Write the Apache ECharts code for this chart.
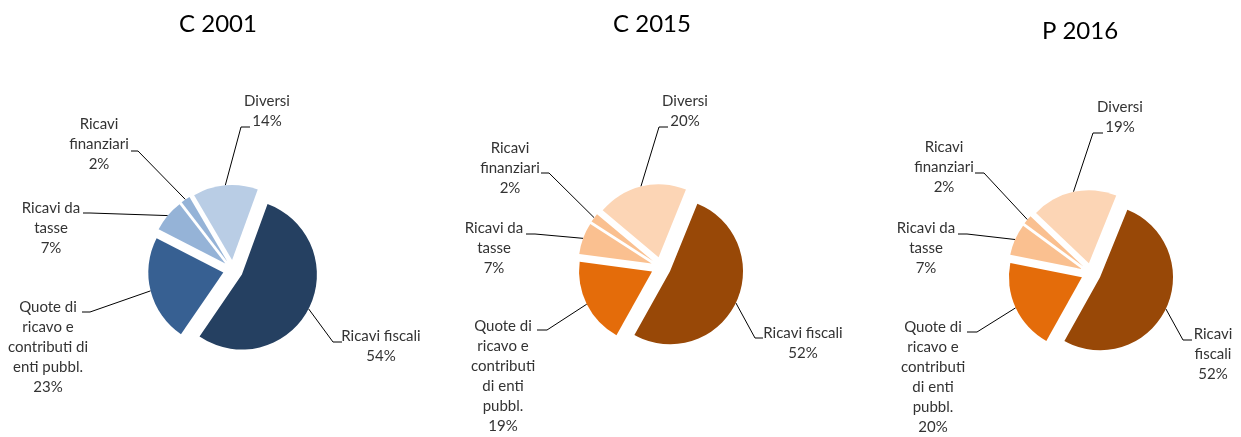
<!DOCTYPE html>
<html><head><meta charset="utf-8">
<script src="https://cdn.jsdelivr.net/npm/echarts@6/dist/echarts.min.js"></script>
<style>html,body{margin:0;padding:0;background:#fff}#c{width:1241px;height:437px}</style>
</head><body><div id="c"></div>
<script>
// ---- data ----
const categories = ['Ricavi fiscali', 'Quote di ricavo e contributi di enti pubbl.', 'Ricavi da tasse', 'Ricavi finanziari', 'Diversi'];
const chartTitles = ['C 2001', 'C 2015', 'P 2016'];
const valuesC2001 = [54, 23, 7, 2, 14];
const valuesC2015 = [52, 19, 7, 2, 20];
const valuesP2016 = [52, 20, 7, 2, 19];
// category names as wrapped in each chart's labels
const labelTextC2001 = ['Ricavi fiscali', 'Quote di\nricavo e\ncontributi di\nenti pubbl.', 'Ricavi da\ntasse', 'Ricavi\nfinanziari', 'Diversi'];
const labelTextC2015 = ['Ricavi fiscali', 'Quote di\nricavo e\ncontributi\ndi enti\npubbl.', 'Ricavi da\ntasse', 'Ricavi\nfinanziari', 'Diversi'];
const labelTextP2016 = ['Ricavi\nfiscali', 'Quote di\nricavo e\ncontributi\ndi enti\npubbl.', 'Ricavi da\ntasse', 'Ricavi\nfinanziari', 'Diversi'];

// ---- layout / style ----
const blues = ['#254061', '#376092', '#95B3D7', '#95B3D7', '#B9CDE5'];
const oranges = ['#984807', '#E46C0A', '#FAC090', '#FAC090', '#FCD5B5'];
const EXPLODE = 10;
const pies = [
  { center: [233, 270], radius: 75, startAngle: 70, colors: blues, title: [213, 7] },
  { center: [661, 267], radius: 73, startAngle: 68, colors: oranges, title: [647, 7] },
  { center: [1091, 273], radius: 73, startAngle: 68, colors: oranges, title: [1075, 14] }
];
// label placement: [text centre x, first baseline y, leader attach x, attach y, elbow dx]
const labelPlace = [
  [[381, 342, 342, 342, -9], [48, 313, 82, 312, 8], [51, 214, 83, 213, 7], [99, 130, 131, 151, 7], [267, 107, 250, 127, -9]],
  [[803, 339, 763, 338, -8], [503, 332, 537, 330, 10], [494, 234, 526, 234, 9], [510, 154, 541, 173, 8], [685, 107, 668, 127, -9]],
  [[1213, 340, 1192, 340, -9], [933, 333, 967, 332, 10], [926, 234, 958, 234, 9], [944, 153, 975, 173, 9], [1120, 113, 1103, 133, -10]]
];
const allValues = [valuesC2001, valuesC2015, valuesP2016];
const allLabelText = [labelTextC2001, labelTextC2015, labelTextP2016];
const FONT = 'Lato, "Open Sans", sans-serif';
const FS = 15, LH = 20;

const chart = echarts.init(document.getElementById('c'), null, { renderer: 'canvas' });
const series = pies.map((p, s) => ({
  type: 'pie',
  center: p.center,
  radius: p.radius,
  startAngle: p.startAngle,
  clockwise: true,
  selectedMode: 'multiple',
  selectedOffset: EXPLODE,
  animation: false,
  silent: true,
  emphasis: { disabled: true },
  label: { show: false },
  labelLine: { show: false },
  data: allValues[s].map((v, i) => ({
    value: v, name: categories[i], selected: true,
    itemStyle: { color: p.colors[i] }
  }))
}));

chart.setOption({
  animation: false,
  title: pies.map((p, s) => ({
    text: chartTitles[s], left: p.title[0], top: p.title[1], textAlign: 'center',
    textStyle: { fontFamily: FONT, fontSize: 24, fontWeight: 'normal', color: '#000' }
  })),
  series: series
});

// data labels with leader lines, anchored at each exploded slice's mid-angle (from the library's pie layout)
const graphics = [];
const model = chart.getModel();
pies.forEach((p, s) => {
  const data = model.getSeriesByIndex(s).getData();
  allValues[s].forEach((v, i) => {
    const lay = data.getItemLayout(i);
    const mid = (lay.startAngle + lay.endAngle) / 2;
    const rr = lay.r + EXPLODE;
    const anchor = [lay.cx + Math.cos(mid) * rr, lay.cy + Math.sin(mid) * rr];
    const L = labelPlace[s][i];
    graphics.push({
      type: 'polyline', silent: true,
      shape: { points: [anchor, [L[2] + L[4], L[3]], [L[2], L[3]]] },
      style: { stroke: '#000', lineWidth: 1, fill: null }
    });
    graphics.push({
      type: 'text', silent: true, x: L[0], y: L[1] - 15.5,
      style: {
        text: allLabelText[s][i] + '\n' + v + '%',
        align: 'center', verticalAlign: 'top',
        font: FS + 'px ' + FONT, lineHeight: LH, fill: '#333'
      }
    });
  });
});
chart.setOption({ graphic: graphics });
</script></body></html>
